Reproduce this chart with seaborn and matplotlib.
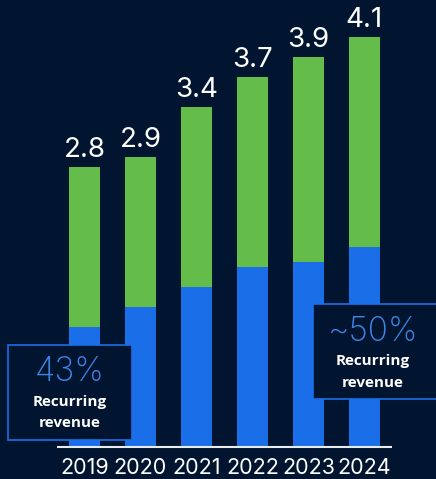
import matplotlib
matplotlib.use("Agg")
import matplotlib.pyplot as plt
from matplotlib.patches import Rectangle
import seaborn as sns
import pandas as pd

years = ["2019", "2020", "2021", "2022", "2023", "2024"]
total_revenue = [2.8, 2.9, 3.4, 3.7, 3.9, 4.1]
recurring_revenue = [1.2, 1.4, 1.6, 1.8, 1.85, 2.0]
total_labels = ["2.8", "2.9", "3.4", "3.7", "3.9", "4.1"]

BG = "#021530"
GREEN = "#64bd4b"
BLUE = "#1a6ee8"
LIGHT_BLUE = "#3f86e8"

sns.set_style("white")
plt.rcParams["font.family"] = ["Inter", "DejaVu Sans"]

df = pd.DataFrame({"year": years, "total": total_revenue, "recurring": recurring_revenue})

fig = plt.figure(figsize=(4.36, 4.79), dpi=100, facecolor=BG)
ax = fig.add_axes([0, 0, 1, 1])
ax.set_facecolor(BG)

sns.barplot(data=df, x="year", y="total", color=GREEN, saturation=1, width=0.55,
            linewidth=0, ax=ax)
sns.barplot(data=df, x="year", y="recurring", color=BLUE, saturation=1, width=0.55,
            linewidth=0, ax=ax)

ax.set_xlim(-1.509, 6.277)
ax.set_ylim(-0.32, 4.47)
ax.axis("off")

# baseline
ax.plot([-0.49, 5.49], [0, 0], color="#e8ecf2", lw=1.5, solid_capstyle="butt", zorder=3)

# totals above bars and year labels below
for i, (v, lab) in enumerate(zip(total_revenue, total_labels)):
    ax.annotate(lab, (i, v), xytext=(0, 7.5), textcoords="offset points",
                ha="center", va="baseline", color="white", fontsize=20)
    ax.text(i, -0.27, years[i], ha="center", va="baseline", color="white", fontsize=15.5)

# callout boxes
def callout(x0, x1, y0, y1, pct, cx, py, ry1, ry2):
    ax.add_patch(Rectangle((x0, y0), x1 - x0, y1 - y0, facecolor=BG,
                           edgecolor=BLUE, lw=1.2, zorder=4, clip_on=False))
    ax.text(cx, py, pct, ha="center", va="center", color=LIGHT_BLUE,
            fontsize=24, fontweight="light", zorder=5)
    for txt, yy in (("Recurring", ry1), ("revenue", ry2)):
        ax.text(cx, yy, txt, ha="center", va="center", color="white",
                fontsize=11, fontweight="bold", family=["Open Sans", "DejaVu Sans"],
                zorder=5)

callout(-1.366, 0.848, 0.07, 1.02, "43%", -0.26, 0.75, 0.45, 0.24)
callout(4.08, 6.35, 0.48, 1.43, "~50%", 5.15, 1.15, 0.86, 0.64)

fig.savefig("out.png", dpi=100, facecolor=BG)
